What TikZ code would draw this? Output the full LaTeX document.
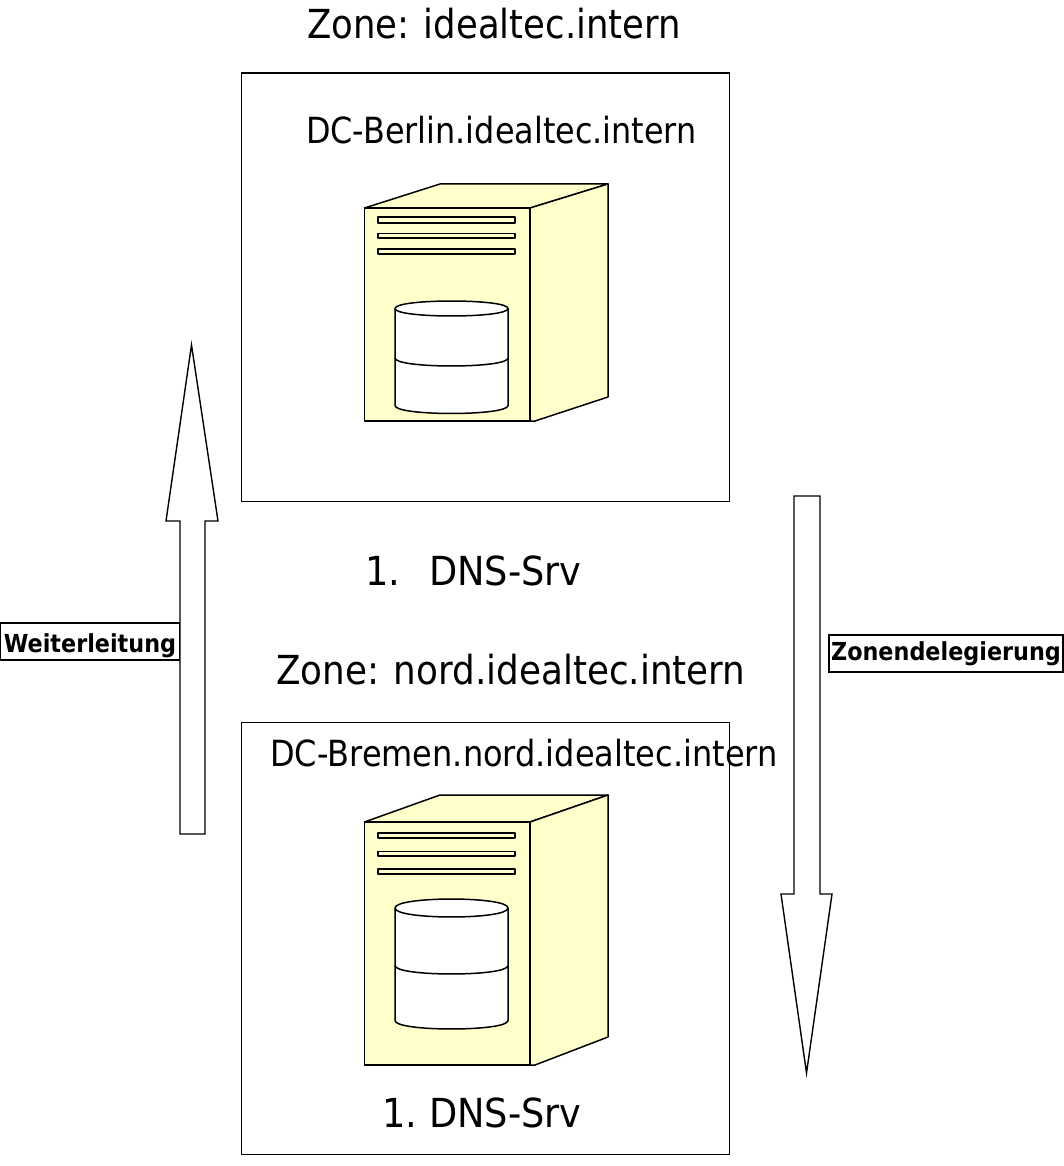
\documentclass[tikz,border=0pt]{standalone}
\usepackage{fontspec}
\setmainfont{DejaVu Sans}
\newfontfamily\condfont[FakeStretch=0.887,WordSpace=0.95]{DejaVu Sans}
\newfontfamily\condbfont[FakeStretch=0.894,WordSpace=0.95]{DejaVu Sans}
\newfontfamily\hostfont[FakeStretch=0.885]{DejaVu Sans}
\newfontfamily\hostbfont[FakeStretch=0.889]{DejaVu Sans}
\newfontfamily\dnsfont[FakeStretch=0.918,WordSpace=0.68]{DejaVu Sans}
\newfontfamily\lblfont[FakeStretch=0.9,BoldFont={DejaVu Sans Bold},BoldFeatures={FakeStretch=0.9}]{DejaVu Sans}
\tikzset{
  zonebox/.style={draw=black,line width=1.2pt,fill=white},
  line/.style={draw=black,line width=1.5pt,line join=round},
  cream/.style={line,fill=srv},
  blockarrow/.style={draw=black,line width=1.4pt,fill=white,line join=miter},
  bigtext/.style={inner sep=0pt,anchor=base west,font=\condfont\fontsize{40}{48}\selectfont},
  bigtextb/.style={inner sep=0pt,anchor=base west,font=\condbfont\fontsize{40}{48}\selectfont},
  dnstext/.style={inner sep=0pt,anchor=base west,font=\dnsfont\fontsize{40}{48}\selectfont},
  hosttext/.style={inner sep=0pt,anchor=base west,font=\hostfont\fontsize{36}{44}\selectfont},
  hosttextb/.style={inner sep=0pt,anchor=base west,font=\hostbfont\fontsize{36}{44}\selectfont},
  lbl/.style={draw=black,line width=1.4pt,fill=white,inner sep=0pt,font=\lblfont\bfseries\fontsize{24.8}{30}\selectfont}
}
\definecolor{srv}{RGB}{255,255,204}
\newcommand{\serverbody}[4]{%
 \path[cream] (364.5,#2) -- (440,#1) -- (608,#1) -- (530,#2) -- cycle;
 \path[cream] (530,#2) -- (608,#1) -- (608,#4) -- (535,#3) -- (530,#3) -- cycle;
 \path[cream] (364.5,#2) rectangle (530,#3);
}
\newcommand{\cyl}[5]{%
 \path[line,fill=white] (395,#1) -- (395,#4) .. controls (395,#4+#5*1.33) and (508,#4+#5*1.33) .. (508,#4) -- (508,#1)
    .. controls (508,#1-#2*1.33) and (395,#1-#2*1.33) .. (395,#1) -- cycle;
 \path[line] (395,#1) .. controls (395,#1+#2*1.33) and (508,#1+#2*1.33) .. (508,#1);
 \path[line] (395,#3) .. controls (395,#3+#5*1.33) and (508,#3+#5*1.33) .. (508,#3);
}
\begin{document}
\begin{tikzpicture}[x=1pt,y=-1pt]
\useasboundingbox (0,0) rectangle (1064,1166);
\node[zonebox,minimum width=488pt,minimum height=428pt,inner sep=0pt,anchor=north west] (zoneA) at (241,72.5) {};
\node[zonebox,minimum width=488pt,minimum height=432pt,inner sep=0pt,anchor=north west] (zoneB) at (241,721.5) {};
\path[blockarrow] (191.5,345) -- (218,521) -- (205,521) -- (205,834) -- (180,834) -- (180,521) -- (166,521) -- cycle;
\path[blockarrow] (794,496) -- (820,496) -- (820,894) -- (832,894) -- (806.5,1073) -- (781,894) -- (794,894) -- cycle;
\serverbody{184}{208}{421}{397}
\foreach \a/\b in {217/223,233.5/238,249/254}{\path[cream] (378,\a) rectangle (515,\b);}
\cyl{308.5}{7.5}{358}{405.5}{8}
\serverbody{795}{822}{1065}{1037}
\foreach \a/\b in {833/838,851.5/856,869/874}{\path[cream] (378,\a) rectangle (515,\b);}
\cyl{908}{9}{965.5}{1020.5}{8.5}
\node[bigtext] (zoneAt) at (307,39) {Zone: idealtec.intern};
\node[hosttext] (hostA) at (306,144) {DC-Berlin.idealtec.intern};
\node[dnstext] (numA) at (365,585) {1.};
\node[dnstext] (dnsA) at (429,585) {DNS-Srv};
\node[bigtextb] (zoneBt) at (276,684) {Zone: nord.idealtec.intern};
\node[hosttextb] (hostB) at (270,766) {DC-Bremen.nord.idealtec.intern};
\node[dnstext] (dnsB) at (382,1127) {1. DNS-Srv};
\node[lbl,minimum width=179pt,minimum height=37pt,text depth=0pt] (weiter) at (90,641.5) {\raisebox{-3pt}{Weiterleitung}};
\node[lbl,minimum width=234pt,minimum height=37pt] (zonen) at (946,653.5) {\raisebox{-3pt}{Zonendelegierung}};
\end{tikzpicture}
\end{document}
